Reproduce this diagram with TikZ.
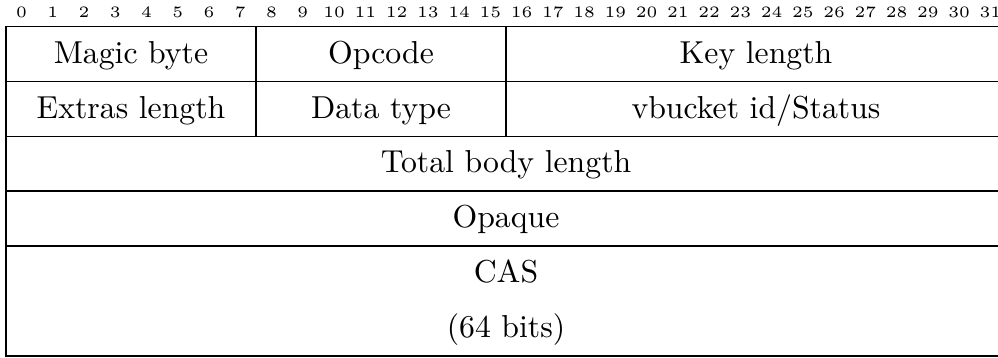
\documentclass[tikz,border=0pt]{standalone}
\begin{document}
\begin{tikzpicture}[x=0.315pt,y=-0.315pt,
  field/.style={draw,line width=0.5pt,inner sep=0pt,outer sep=0pt,
    text height=8.8pt,text depth=3pt,minimum height=17.29pt},
  w8/.style={minimum width=78.75pt},
  w16/.style={minimum width=157.5pt},
  w32/.style={minimum width=315pt},
  tall/.style={minimum height=34.59pt},
  txt/.style={inner sep=0pt,text height=8.8pt,text depth=3pt},
  bitnum/.style={inner sep=0pt,font=\tiny}]
\useasboundingbox (0,0) rectangle (998,358);
\foreach \i in {0,...,31} \node[bitnum] (b\i) at ({6+31.25*(\i+0.5)},12) {\i};
% row 1
\node[field,w8]  (magic)  at (131,53.95) {Magic byte};
\node[field,w8]  (opcode) at (381,53.95) {Opcode};
\node[field,w16] (keylen) at (756,53.95) {Key length};
% row 2
\node[field,w8]  (extras) at (131,108.85) {Extras length};
\node[field,w8]  (dtype)  at (381,108.85) {Data type};
\node[field,w16] (vbucket) at (756,108.85) {vbucket id/Status};
% row 3
\node[field,w32] (total) at (506,163.75) {Total body length};
% row 4
\node[field,w32] (opaque) at (506,218.65) {Opaque};
% CAS
\node[field,w32,tall] (cas) at (506,301) {};
\node[txt] (cas1) at (506,273.55) {CAS};
\node[txt] (cas2) at (506,328.45) {(64 bits)};
\end{tikzpicture}
\end{document}
